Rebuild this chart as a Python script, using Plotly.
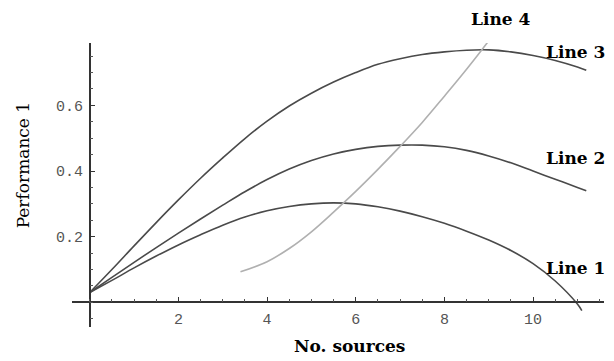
import plotly.graph_objects as go

# ---- data ----
x_main = [0, 0.5, 1, 1.5, 2, 2.5, 3, 3.5, 4, 4.5, 5, 5.5, 6, 6.5, 7, 7.5, 8, 8.5, 9, 9.5, 10, 10.5, 11]
line1 = [0.03, 0.067, 0.105, 0.141, 0.175, 0.206, 0.235, 0.26, 0.279, 0.292, 0.30, 0.303, 0.30, 0.291,
         0.278, 0.261, 0.241, 0.217, 0.19, 0.158, 0.118, 0.065, -0.005]
line1_end = (11.1, -0.025)
line2 = [0.03, 0.076, 0.122, 0.167, 0.211, 0.254, 0.296, 0.337, 0.374, 0.406, 0.432, 0.452, 0.466, 0.475,
         0.479, 0.479, 0.474, 0.463, 0.446, 0.425, 0.40, 0.375, 0.35]
line2_end = (11.2, 0.34)
line3 = [0.03, 0.10, 0.172, 0.243, 0.312, 0.378, 0.44, 0.499, 0.552, 0.598, 0.637, 0.671, 0.70, 0.725,
         0.742, 0.755, 0.763, 0.768, 0.769, 0.763, 0.752, 0.737, 0.717]
line3_end = (11.2, 0.707)
x_line4 = [3.4, 4, 4.5, 5, 5.5, 6, 6.5, 7, 7.5, 8, 8.5, 9, 9.3]
line4 = [0.093, 0.124, 0.164, 0.215, 0.275, 0.338, 0.405, 0.475, 0.548, 0.628, 0.71, 0.797, 0.855]

series_names = ["Line 1", "Line 2", "Line 3", "Line 4"]
x_tickvals = [2, 4, 6, 8, 10]
x_ticktext = ["2", "4", "6", "8", "10"]
y_tickvals = [0.2, 0.4, 0.6]
y_ticktext = ["0.2", "0.4", "0.6"]
x_title = "No. sources"
y_title = "Performance 1"

# ---- figure ----
XR = [-0.4, 11.6]
YR = [-0.075, 0.79]
dark = "#4a4a4a"
light = "#b0b0b0"


def px(x):
    return (x - XR[0]) / (XR[1] - XR[0])


def py(y):
    return (y - YR[0]) / (YR[1] - YR[0])


fig = go.Figure()
for name, ys, end in [("Line 1", line1, line1_end), ("Line 2", line2, line2_end), ("Line 3", line3, line3_end)]:
    fig.add_trace(go.Scatter(x=x_main + [end[0]], y=ys + [end[1]], mode="lines", name=name,
                             line=dict(color=dark, width=1.6, shape="spline", smoothing=1.0),
                             showlegend=False, hoverinfo="skip", cliponaxis=False))
fig.add_trace(go.Scatter(x=x_line4, y=line4, mode="lines", name="Line 4",
                         line=dict(color=light, width=1.6, shape="spline", smoothing=1.0),
                         showlegend=False, hoverinfo="skip", cliponaxis=False))

label_font = dict(family="DejaVu Serif", size=17, color="black", weight="bold")
label_pos = {"Line 1": (10.25, 0.105), "Line 2": (10.25, 0.44), "Line 3": (10.25, 0.762), "Line 4": (8.55, 0.862)}
for name in series_names:
    lx, ly = label_pos[name]
    fig.add_annotation(x=px(lx), y=py(ly), xref="paper", yref="paper", text=name, showarrow=False,
                       xanchor="left", yanchor="middle", font=label_font)

fig.add_annotation(x=px(5.86), y=py(-0.133), xref="paper", yref="paper", text=x_title, showarrow=False,
                   xanchor="center", yanchor="middle",
                   font=dict(family="DejaVu Serif", size=17, color="black", weight="bold"))
fig.add_annotation(x=px(-1.5), y=py(0.418), xref="paper", yref="paper", text=y_title, showarrow=False,
                   textangle=-90, xanchor="center", yanchor="middle",
                   font=dict(family="DejaVu Serif", size=17, color="black"))

tickfont = dict(family="Liberation Mono", size=15, color="#555555")
fig.update_layout(
    width=614, height=361,
    margin=dict(l=64, r=18, t=35, b=42),
    paper_bgcolor="white", plot_bgcolor="white",
    xaxis=dict(range=XR, anchor="free", position=py(0),
               showgrid=False, zeroline=False, showline=True, linecolor="#333333", linewidth=1.5,
               ticks="inside", ticklen=5, tickwidth=1, tickcolor="#333333", ticklabelstandoff=3,
               tickmode="array", tickvals=x_tickvals, ticktext=x_ticktext, tickfont=tickfont,
               minor=dict(tickmode="linear", tick0=0, dtick=0.5, ticks="inside", ticklen=3,
                          tickcolor="#555555", showgrid=False)),
    yaxis=dict(range=YR, anchor="free", position=px(0),
               showgrid=False, zeroline=False, showline=True, linecolor="#333333", linewidth=1.5,
               ticks="inside", ticklen=5, tickwidth=1, tickcolor="#333333", ticklabelstandoff=3,
               tickmode="array", tickvals=y_tickvals, ticktext=y_ticktext, tickfont=tickfont,
               minor=dict(tickmode="linear", tick0=0, dtick=0.05, ticks="inside", ticklen=3,
                          tickcolor="#555555", showgrid=False)),
)

fig.write_html("out.html")
